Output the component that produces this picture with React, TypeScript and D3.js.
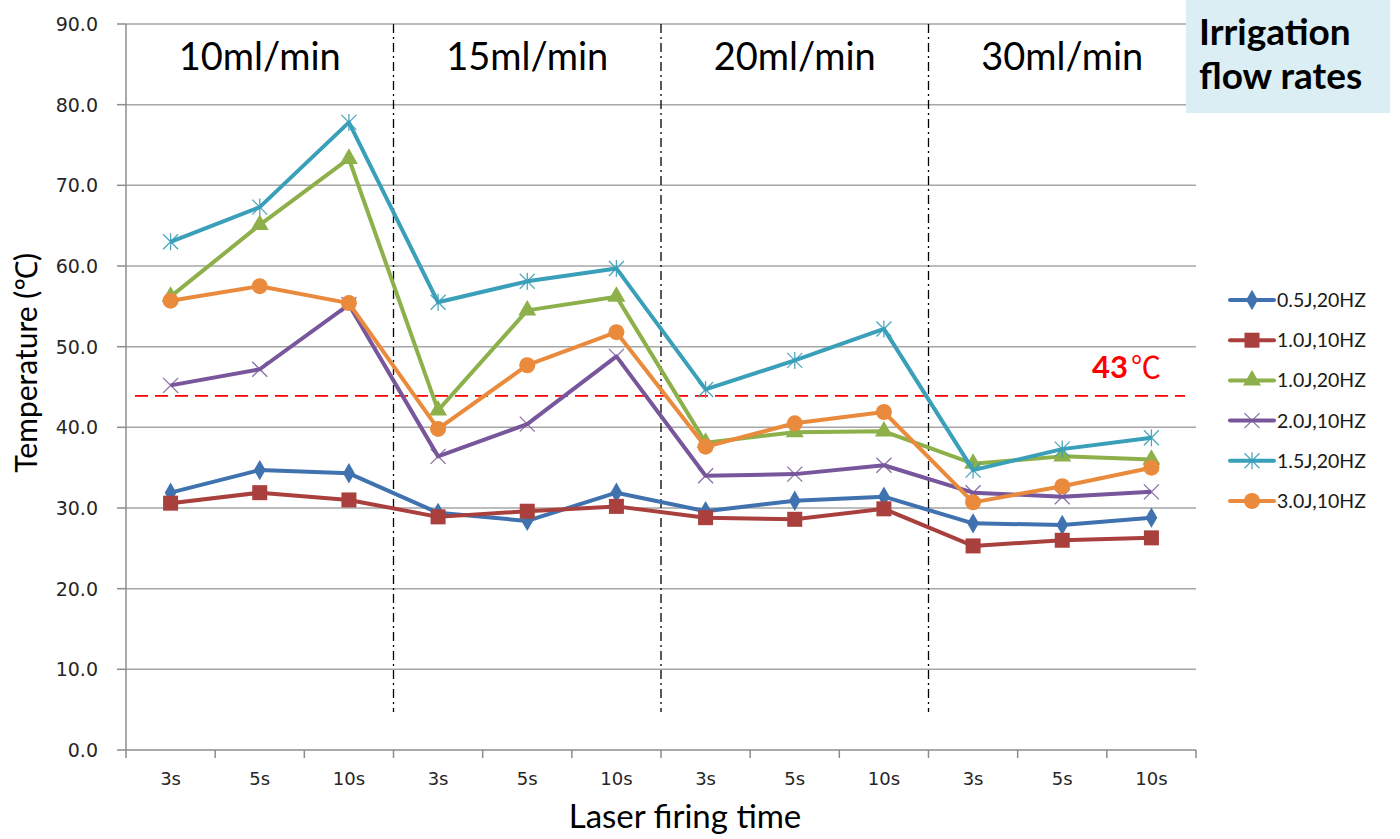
import React from "react";
import * as d3 from "d3";

const groups = ["10ml/min", "15ml/min", "20ml/min", "30ml/min"];
const times = ["3s", "5s", "10s"];
const categories = groups.flatMap((g) => times.map((t) => `${g}|${t}`));
const yTicks = [0, 10, 20, 30, 40, 50, 60, 70, 80, 90];
const threshold = 43.9;

const s05J20 = [31.9, 34.7, 34.3, 29.4, 28.4, 31.9, 29.6, 30.9, 31.4, 28.1, 27.9, 28.8];
const s10J10 = [30.6, 31.9, 31.0, 28.9, 29.6, 30.2, 28.8, 28.6, 29.9, 25.3, 26.0, 26.3];
const s10J20 = [56.2, 65.1, 73.3, 42.1, 54.5, 56.2, 38.1, 39.4, 39.5, 35.5, 36.4, 36.0];
const s20J10 = [45.2, 47.2, 55.2, 36.4, 40.4, 48.8, 34.0, 34.2, 35.3, 31.9, 31.4, 32.0];
const s15J20 = [63.0, 67.3, 77.8, 55.5, 58.1, 59.7, 44.7, 48.3, 52.2, 34.7, 37.3, 38.7];
const s30J10 = [55.7, 57.5, 55.4, 39.8, 47.7, 51.8, 37.6, 40.5, 41.9, 30.7, 32.7, 35.0];

const seriesNames = ["0.5J,20HZ", "1.0J,10HZ", "1.0J,20HZ", "2.0J,10HZ", "1.5J,20HZ", "3.0J,10HZ"];
const seriesValues = [s05J20, s10J10, s10J20, s20J10, s15J20, s30J10];
const seriesColors = ["#3f72af", "#a9403d", "#8db04a", "#77569b", "#3a9fb8", "#ea8a3c"];
const markerKinds = ["diamond", "square", "triangle", "x", "star", "circle"];

const W = 1400, H = 839;
const left = 126, right = 1196, top = 24, bottom = 750;

const x = d3.scaleBand<string>().domain(categories).range([left, right]);
const y = d3.scaleLinear().domain([0, 90]).range([bottom, top]);

function Marker({ kind, cx, cy, color }: { kind: string; cx: number; cy: number; color: string }) {
  if (kind === "diamond") {
    const s = d3.symbol().type(d3.symbolDiamond).size(120)();
    return <path d={s || ""} transform={`translate(${cx},${cy})`} fill={color} />;
  }
  if (kind === "square") {
    return <rect x={cx - 7.5} y={cy - 7.5} width={15} height={15} fill={color} />;
  }
  if (kind === "triangle") {
    const s = d3.symbol().type(d3.symbolTriangle).size(140)();
    return <path d={s || ""} transform={`translate(${cx},${cy})`} fill={color} />;
  }
  if (kind === "x") {
    const r = 7.5;
    return (
      <g stroke={color} strokeWidth={1.3} opacity={0.85}>
        <line x1={cx - r} y1={cy - r} x2={cx + r} y2={cy + r} />
        <line x1={cx - r} y1={cy + r} x2={cx + r} y2={cy - r} />
      </g>
    );
  }
  if (kind === "star") {
    const r = 7.5;
    return (
      <g stroke={color} strokeWidth={1.3} opacity={0.9}>
        <line x1={cx - r} y1={cy - r} x2={cx + r} y2={cy + r} />
        <line x1={cx - r} y1={cy + r} x2={cx + r} y2={cy - r} />
        <line x1={cx} y1={cy - r - 1} x2={cx} y2={cy + r + 1} />
      </g>
    );
  }
  return <circle cx={cx} cy={cy} r={8} fill={color} />;
}

export default function App() {
  const cx = (i: number) => (x(categories[i]) as number) + x.bandwidth() / 2;
  const line = d3
    .line<number>()
    .x((_, i) => cx(i))
    .y((v) => y(v));
  const font = "Lato, 'Noto Sans', sans-serif";
  const tickFont = "'DejaVu Sans', Verdana, sans-serif";
  const groupBounds = groups.map((_, g) => [
    x(categories[g * 3]) as number,
    (x(categories[g * 3 + 2]) as number) + x.bandwidth(),
  ]);
  const legendY0 = 300, legendStep = 40.2;

  return (
    <svg width={W} height={H} style={{ position: "absolute", left: 0, top: 0, background: "#fff" }} fontFamily={font}>
      {/* gridlines */}
      {yTicks.map((t) => (
        <g key={t}>
          {t > 0 && <line x1={left} x2={right} y1={y(t)} y2={y(t)} stroke="#a6a6a6" strokeWidth={1.5} />}
          <line x1={left - 9} x2={left} y1={y(t)} y2={y(t)} stroke="#8c8c8c" strokeWidth={1.5} />
          <text x={98} y={y(t)} dy="0.36em" textAnchor="end" fontSize={19} fill="#262626" fontFamily={tickFont}>
            {t.toFixed(1)}
          </text>
        </g>
      ))}
      {/* axes */}
      <line x1={left} x2={left} y1={top} y2={bottom + 8} stroke="#8c8c8c" strokeWidth={1.5} />
      <line x1={left} x2={right} y1={bottom} y2={bottom} stroke="#8c8c8c" strokeWidth={1.5} />
      {categories.map((c, i) => (
        <g key={c}>
          <line x1={(x(c) as number) + x.bandwidth()} x2={(x(c) as number) + x.bandwidth()} y1={bottom} y2={bottom + 8} stroke="#8c8c8c" strokeWidth={1.5} />
          <text x={cx(i)} y={785} textAnchor="middle" fontSize={18} fill="#262626" fontFamily={tickFont}>
            {c.split("|")[1]}
          </text>
        </g>
      ))}
      {/* group separators */}
      {groupBounds.slice(1).map(([x0], i) => (
        <line key={i} x1={x0} x2={x0} y1={top} y2={712} stroke="#000" strokeWidth={1.3} strokeDasharray="9 4 2 4" />
      ))}
      {/* group labels */}
      {groups.map((g, i) => (
        <text key={g} x={(groupBounds[i][0] + groupBounds[i][1]) / 2} y={70} textAnchor="middle" fontSize={38} fill="#000">
          {g}
        </text>
      ))}
      {/* threshold */}
      <line x1={135} x2={1185} y1={y(threshold)} y2={y(threshold)} stroke="#ff0000" strokeWidth={1.8} strokeDasharray="13 7" />
      <text x={1092} y={378} fontSize={31} fontWeight="bold" fill="#ff0000">
        43<tspan dx={3} fontWeight="normal" fontSize={30} fontFamily="'Noto Sans CJK JP', serif">℃</tspan>
      </text>
      {/* series */}
      {seriesValues.map((vals, si) => (
        <g key={si}>
          <path d={line(vals) || ""} fill="none" stroke={seriesColors[si]} strokeWidth={4} strokeLinejoin="round" />
          {vals.map((v, i) => (
            <Marker key={i} kind={markerKinds[si]} cx={cx(i)} cy={y(v)} color={seriesColors[si]} />
          ))}
        </g>
      ))}
      {/* legend */}
      {seriesNames.map((n, si) => {
        const ly = legendY0 + si * legendStep;
        return (
          <g key={n}>
            <line x1={1230} x2={1274} y1={ly} y2={ly} stroke={seriesColors[si]} strokeWidth={4} strokeLinecap="round" />
            <Marker kind={markerKinds[si]} cx={1252} cy={ly} color={seriesColors[si]} />
            <text x={1277} y={ly} dy="0.36em" fontSize={19.5} fill="#1a1a1a">
              {n}
            </text>
          </g>
        );
      })}
      {/* Irrigation box */}
      <rect x={1186} y={0} width={204} height={113} fill="#daeef3" />
      <text x={1199} y={45} fontSize={37} fontWeight="bold" fill="#000">Irrigation</text>
      <text x={1199} y={89} fontSize={37} fontWeight="bold" fill="#000">flow rates</text>
      {/* axis titles */}
      <text transform={`translate(37,${y(48)}) rotate(-90)`} textAnchor="middle" fontSize={30} fill="#000">
        Temperature (℃)
      </text>
      <text x={685} y={828} textAnchor="middle" fontSize={33} fill="#000">
        Laser firing time
      </text>
    </svg>
  );
}
